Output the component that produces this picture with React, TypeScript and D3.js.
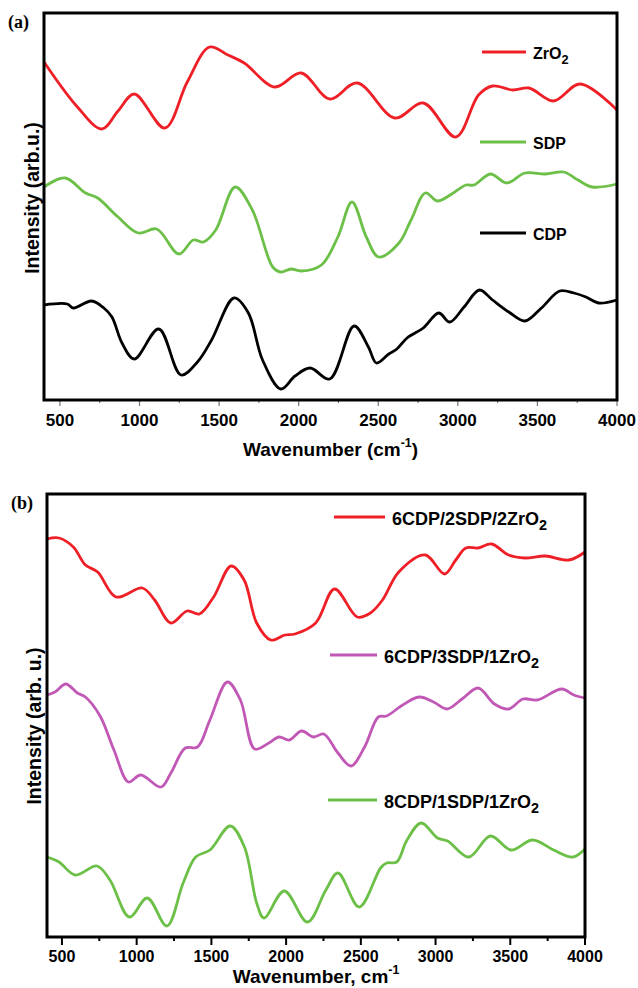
import * as React from 'react';
import * as d3 from 'd3';

type Pt = [number, number];

// tick values (cm-1)
const xTicks = [500, 1000, 1500, 2000, 2500, 3000, 3500, 4000];
const xMinor = [750, 1250, 1750, 2250, 2750, 3250, 3750];

// panel (a) spectra: [wavenumber, intensity (arb.u.)]
const zro2: Pt[] = [
  [400, 338], [610, 293], [763, 271], [865, 289], [967, 306], [1159, 272], [1300, 318],
  [1440, 353], [1556, 345], [1658, 337], [1850, 313], [2016, 327], [2195, 301],
  [2368, 317], [2604, 282], [2783, 297], [2987, 263], [3130, 305], [3218, 314],
  [3345, 310], [3447, 312], [3601, 299], [3768, 316], [4000, 290],
];
const sdp: Pt[] = [
  [400, 213], [533, 222], [661, 207], [737, 202], [865, 183], [993, 167], [1108, 171],
  [1248, 146], [1338, 160], [1402, 158], [1479, 170], [1601, 213], [1709, 190],
  [1837, 133], [1888, 128], [1952, 131], [2015, 129], [2143, 135], [2246, 163],
  [2335, 198], [2425, 163], [2502, 143], [2630, 157], [2706, 180], [2796, 207],
  [2872, 199], [2962, 206], [3051, 215], [3102, 215], [3205, 226], [3307, 217],
  [3422, 227], [3550, 226], [3665, 228], [3755, 220], [3844, 213], [4000, 216],
];
const cdp: Pt[] = [
  [400, 95], [546, 96], [584, 92], [699, 99], [776, 92], [827, 83], [890, 57], [967, 41],
  [1121, 71], [1261, 25], [1364, 38], [1453, 60], [1594, 102], [1684, 87], [1773, 40],
  [1888, 11], [1977, 24], [2072, 32], [2195, 21], [2348, 74], [2438, 53], [2489, 37],
  [2566, 46], [2617, 51], [2681, 62], [2783, 72], [2880, 87], [2949, 78], [3039, 93],
  [3136, 110], [3218, 100], [3320, 88], [3422, 79], [3525, 92], [3640, 109], [3729, 107],
  [3805, 103], [3883, 97], [4000, 100],
];

// panel (b) spectra
const mix622: Pt[] = [
  [400, 398], [480, 399], [576, 390], [657, 372], [739, 365], [862, 340], [1038, 349],
  [1120, 337], [1229, 314], [1338, 326], [1420, 323], [1515, 340], [1632, 371],
  [1719, 357], [1803, 314], [1897, 297], [1992, 302], [2059, 303], [2198, 314],
  [2324, 348], [2477, 320], [2564, 324], [2645, 337], [2754, 365], [2931, 382],
  [3060, 363], [3135, 377], [3203, 389], [3285, 389], [3375, 393], [3489, 382],
  [3598, 379], [3734, 381], [3892, 377], [4000, 385],
];
const mix631: Pt[] = [
  [400, 242], [453, 245], [526, 253], [603, 244], [657, 240], [755, 221], [848, 187],
  [945, 155], [1027, 162], [1163, 150], [1229, 164], [1325, 189], [1407, 190],
  [1490, 217], [1607, 255], [1694, 237], [1790, 188], [1885, 194], [1953, 200],
  [2021, 197], [2103, 206], [2184, 200], [2252, 203], [2347, 184], [2434, 171],
  [2525, 190], [2617, 220], [2672, 221], [2770, 231], [2890, 240], [2986, 235],
  [3077, 228], [3177, 238], [3285, 249], [3394, 233], [3489, 228], [3585, 238],
  [3680, 237], [3845, 248], [3925, 242], [4000, 239],
];
const mix811: Pt[] = [
  [400, 80], [480, 75], [589, 62], [734, 71], [821, 57], [951, 20], [1071, 39],
  [1202, 11], [1311, 54], [1395, 80], [1490, 87], [1626, 111], [1721, 90], [1803, 34],
  [1852, 19], [1988, 46], [2143, 15], [2266, 47], [2347, 64], [2489, 30], [2632, 69],
  [2672, 74], [2740, 75], [2809, 97], [2904, 114], [3013, 99], [3081, 96], [3223, 80],
  [3367, 101], [3505, 87], [3649, 97], [3790, 87], [3919, 80], [4000, 88],
];

const RED = '#ee1f26';
const GREEN = '#6cbf47';
const MAGENTA = '#c158b6';
const SANS = '"Liberation Sans", Arial, sans-serif';
const SERIF = '"Liberation Serif", "Times New Roman", serif';

interface Legend {
  label: string;
  sub?: string;
  color: string;
  x1: number;
  x2: number;
  y: number;
}

interface PanelProps {
  tag: string;
  left: number;
  right: number;
  top: number;
  bottom: number;
  ymax: number;
  series: { data: Pt[]; color: string }[];
  legends: Legend[];
  legendSize: number;
  tickColor: string;
  tickWidth: number;
  tickLen: number;
  labelBase: number;
  labelSize: number;
  titleY: number;
  titleSize: number;
  title: string;
  titleTail: string;
  yLabel: string;
  yLabelX: number;
  yLabelY: number;
}

const Panel = (p: PanelProps) => {
  const x = d3.scaleLinear().domain([400, 4000]).range([p.left, p.right]);
  const y = d3.scaleLinear().domain([0, p.ymax]).range([p.bottom, p.top]);
  const line = d3
    .line<Pt>()
    .x((d) => x(d[0]))
    .y((d) => y(d[1]))
    .curve(d3.curveCatmullRom.alpha(0.5));

  return (
    <g>
      <text x={p.left - 36} y={p.top + 15} fontFamily={SERIF} fontWeight="bold" fontSize={18}>
        {p.tag}
      </text>
      {p.series.map((s, i) => (
        <path key={i} d={line(s.data) || ''} fill="none" stroke={s.color} strokeWidth={2.8}
          strokeLinejoin="round" />
      ))}
      {xTicks.map((t) => (
        <line key={t} x1={x(t)} x2={x(t)} y1={p.bottom} y2={p.bottom + p.tickLen}
          stroke={p.tickColor} strokeWidth={p.tickWidth} />
      ))}
      {xMinor.map((t) => (
        <line key={t} x1={x(t)} x2={x(t)} y1={p.bottom} y2={p.bottom + p.tickLen / 2}
          stroke={p.tickColor} strokeWidth={p.tickWidth} />
      ))}
      <rect x={p.left} y={p.top} width={p.right - p.left} height={p.bottom - p.top}
        fill="none" stroke="#000" strokeWidth={3} />
      {xTicks.map((t) => (
        <text key={t} x={x(t)} y={p.labelBase} textAnchor="middle" fontFamily={SANS}
          fontWeight="bold" fontSize={p.labelSize}>
          {t}
        </text>
      ))}
      <text x={(p.left + p.right) / 2} y={p.titleY} textAnchor="middle" fontFamily={SANS}
        fontWeight="bold" fontSize={p.titleSize}>
        {p.title}
        <tspan dy={-9} fontSize={p.titleSize * 0.65}>-1</tspan>
        <tspan dy={9}>{p.titleTail}</tspan>
      </text>
      <text transform={`translate(${p.yLabelX},${p.yLabelY}) rotate(-90)`} textAnchor="middle"
        fontFamily={SANS} fontWeight="bold" fontSize={19.5}>
        {p.yLabel}
      </text>
      {p.legends.map((l) => (
        <g key={l.label}>
          <line x1={l.x1} x2={l.x2} y1={l.y} y2={l.y} stroke={l.color} strokeWidth={2.8} />
          <text x={l.x2 + 7} y={l.y + p.legendSize * 0.42} fontFamily={SANS} fontWeight="bold"
            fontSize={p.legendSize}>
            {l.label}
            {l.sub && (
              <tspan dy={p.legendSize * 0.3} fontSize={p.legendSize * 0.8}>{l.sub}</tspan>
            )}
          </text>
        </g>
      ))}
    </g>
  );
};

export default function App() {
  return (
    <svg width={638} height={988} style={{ position: 'absolute', left: 0, top: 0 }}>
      <rect width={638} height={988} fill="#fff" />
      <Panel
        tag="(a)" left={44} right={617} top={13} bottom={400} ymax={387}
        series={[
          { data: zro2, color: RED },
          { data: sdp, color: GREEN },
          { data: cdp, color: '#000' },
        ]}
        legends={[
          { label: 'ZrO', sub: '2', color: RED, x1: 482, x2: 526, y: 52 },
          { label: 'SDP', color: GREEN, x1: 480, x2: 526, y: 142 },
          { label: 'CDP', color: '#000', x1: 480, x2: 526, y: 233 },
        ]}
        legendSize={16}
        tickColor="#777" tickWidth={1.2} tickLen={6} labelBase={426} labelSize={17}
        titleY={456} titleSize={19} title="Wavenumber (cm" titleTail=")"
        yLabel="Intensity (arb.u.)" yLabelX={39} yLabelY={198}
      />
      <Panel
        tag="(b)" left={47} right={585} top={494} bottom={937} ymax={443}
        series={[
          { data: mix622, color: RED },
          { data: mix631, color: MAGENTA },
          { data: mix811, color: GREEN },
        ]}
        legends={[
          { label: '6CDP/2SDP/2ZrO', sub: '2', color: RED, x1: 334, x2: 385, y: 517 },
          { label: '6CDP/3SDP/1ZrO', sub: '2', color: MAGENTA, x1: 330, x2: 377, y: 655 },
          { label: '8CDP/1SDP/1ZrO', sub: '2', color: GREEN, x1: 328, x2: 377, y: 800 },
        ]}
        legendSize={18}
        tickColor="#000" tickWidth={2} tickLen={8} labelBase={962} labelSize={16}
        titleY={983} titleSize={19} title="Wavenumber, cm" titleTail=""
        yLabel="Intensity (arb. u.)" yLabelX={41} yLabelY={726}
      />
    </svg>
  );
}
